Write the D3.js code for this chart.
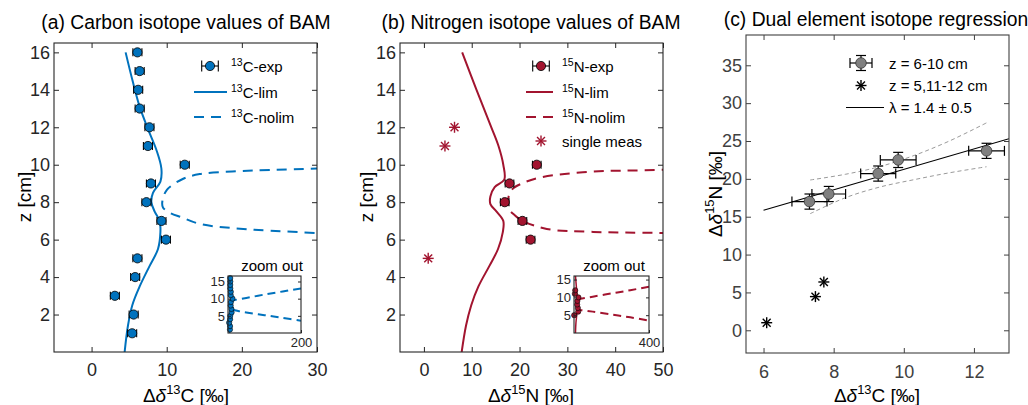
<!DOCTYPE html>
<html>
<head>
<meta charset="utf-8">
<script src="https://cdn.jsdelivr.net/npm/d3@7"></script>
<style>
  body { margin: 0; background: #fff; }
  svg { font-family: "Liberation Sans", Arial, sans-serif; }
</style>
</head>
<body>
<div id="container"></div>
<script>
/* CONSTANTS AND GLOBALS */
const width = 1028, height = 405;
const blue = "#0072BD", red = "#A2142F", axisColor = "#262626";

/* DATA */
// depth of the experimental samples (cm)
const zExp = [1, 2, 3, 4, 5, 6, 7, 8, 9, 10, 11, 12, 13, 14, 15, 16];
const c13Exp = [5.4, 5.6, 3.1, 5.8, 6.1, 9.9, 9.3, 7.3, 7.9, 12.4, 7.5, 7.7, 6.4, 6.2, 6.4, 6.1];
const c13Err = 0.6;

// 13C-lim model curve
const c13LimZ = [0, 1.4, 2.5, 3.5, 4.6, 5.5, 6.4, 7.0, 7.5, 8.0, 8.5, 9.1, 9.8, 10.8, 11.9, 13.1, 14.4, 16];
const c13LimV = [4.4, 4.84, 5.42, 6.4, 7.73, 8.84, 9.16, 9.07, 8.4, 7.96, 8.17, 9.16, 9.29, 8.62, 7.51, 6.4, 5.51, 4.53];

// 13C-nolim model curve (upper branch -> vertex -> lower branch)
const c13NolimV = [200, 150, 100, 50, 30, 18.7, 14.4, 12.2, 10.0, 9.42, 9.5, 10.5, 12.0, 14.4, 18.7, 30, 50, 100, 150, 200];
const c13NolimZ = [13.0, 12.1, 11.2, 10.2, 9.8, 9.64, 9.5, 9.25, 8.65, 8.05, 7.72, 7.42, 7.19, 6.84, 6.62, 6.35, 6.0, 5.2, 4.4, 3.6];

// 15N experimental samples
const zN = [6, 7, 8, 9, 10];
const n15Exp = [22.3, 20.6, 16.9, 17.9, 23.6];
const n15Err = 0.9;

// 15N single measurements
const zSingle = [5, 11, 12];
const n15Single = [0.9, 4.4, 6.4];

// 15N-lim model curve
const n15LimZ = [0, 1.4, 2.5, 3.5, 4.6, 5.5, 6.4, 7.0, 7.5, 7.9, 8.3, 8.8, 9.2, 10, 11, 12, 14, 16];
const n15LimV = [7.9, 8.8, 9.9, 11.4, 13.7, 15.5, 16.5, 16.6, 15.2, 13.9, 13.9, 14.8, 16.8, 16.6, 15.6, 14.1, 11.0, 8.0];

// 15N-nolim model curve
const n15NolimV = [400, 300, 200, 100, 50, 34.7, 24.3, 20.5, 18.5, 17.6, 17.8, 19.0, 20.6, 25.7, 34.7, 50, 100, 200, 300, 400];
const n15NolimZ = [13.0, 12.0, 11.1, 10.2, 9.73, 9.62, 9.32, 9.0, 8.7, 8.15, 7.63, 7.3, 7.01, 6.57, 6.42, 6.35, 6.0, 5.2, 4.4, 3.5];

// (c) dual element plot, z = 6-10 cm
const dualC = [7.31, 7.86, 9.27, 9.84, 12.36];
const dualN = [17.0, 18.0, 20.7, 22.5, 23.7];
const dualCErr = [0.5, 0.48, 0.5, 0.51, 0.51];
const dualNErr = [1.0, 1.0, 1.0, 1.0, 1.0];

// (c) z = 5, 11-12 cm
const starC = [6.09, 7.48, 7.72];
const starN = [1.0, 4.45, 6.38];

// (c) regression line and confidence band
const regC = [6, 13];
const regN = [15.85, 25.3];
const bandC = [7.33, 8.33, 9.3, 10.3, 11.3, 12.36];
const bandUpper = [19.85, 20.6, 21.6, 23.1, 25.0, 27.4];
const bandLower = [15.4, 17.5, 18.9, 19.9, 20.8, 21.6];

// ticks
const zTicks = [2, 4, 6, 8, 10, 12, 14, 16];
const cTicks = [0, 10, 20, 30];
const nTicks = [0, 10, 20, 30, 40, 50];
const dualCTicks = [6, 8, 10, 12];
const dualNTicks = [0, 5, 10, 15, 20, 25, 30, 35];
const insetZTicks = [5, 10, 15];

/* SVG */
const svg = d3.select("#container")
  .append("svg")
  .attr("width", width)
  .attr("height", height);

/* HELPERS */
function frame(g, box, xs, ys, xTicks, yTicks, o) {
  const col = o.color || axisColor;
  const ts = o.tick || 5;
  const fs = o.fontSize || 18;
  const axes = [
    g.append("g").attr("transform", `translate(0,${box.bottom})`)
      .call(d3.axisBottom(xs).tickValues(xTicks).tickSizeInner(-ts).tickSizeOuter(0).tickPadding(o.xPad || 11)),
    g.append("g").attr("transform", `translate(${box.left},0)`)
      .call(d3.axisLeft(ys).tickValues(yTicks).tickSizeInner(-ts).tickSizeOuter(0).tickPadding(o.yPad || 4)),
    g.append("g").attr("transform", `translate(0,${box.top})`)
      .call(d3.axisTop(xs).tickValues(o.topTicks || xTicks).tickSizeInner(-ts).tickSizeOuter(0).tickFormat(() => "")),
    g.append("g").attr("transform", `translate(${box.right},0)`)
      .call(d3.axisRight(ys).tickValues(yTicks).tickSizeInner(-ts).tickSizeOuter(0).tickFormat(() => ""))
  ];
  axes.forEach(a => {
    a.select(".domain").remove();
    a.selectAll("line").attr("stroke", col);
    a.selectAll("text").attr("fill", col).attr("font-size", fs)
      .attr("font-family", '"Liberation Sans", Arial, sans-serif');
  });
  g.append("rect")
    .attr("x", box.left).attr("y", box.top)
    .attr("width", box.right - box.left).attr("height", box.bottom - box.top)
    .attr("fill", "none").attr("stroke", col).attr("stroke-width", 1.1);
}

function clip(id, box) {
  svg.append("clipPath").attr("id", id)
    .append("rect")
    .attr("x", box.left).attr("y", box.top)
    .attr("width", box.right - box.left).attr("height", box.bottom - box.top);
  return `url(#${id})`;
}

function star(g, cx, cy, r, col, w) {
  const d = r * 0.72;
  const segs = [[-r, 0, r, 0], [0, -r, 0, r], [-d, -d, d, d], [-d, d, d, -d]];
  segs.forEach(s => g.append("line")
    .attr("x1", cx + s[0]).attr("y1", cy + s[1])
    .attr("x2", cx + s[2]).attr("y2", cy + s[3])
    .attr("stroke", col).attr("stroke-width", w || 1.3));
}

function hErr(g, x1, x2, y, cap) {
  g.append("line").attr("x1", x1).attr("x2", x2).attr("y1", y).attr("y2", y);
  g.append("line").attr("x1", x1).attr("x2", x1).attr("y1", y - cap).attr("y2", y + cap);
  g.append("line").attr("x1", x2).attr("x2", x2).attr("y1", y - cap).attr("y2", y + cap);
}

function vErr(g, x, y1, y2, cap) {
  g.append("line").attr("x1", x).attr("x2", x).attr("y1", y1).attr("y2", y2);
  g.append("line").attr("x1", x - cap).attr("x2", x + cap).attr("y1", y1).attr("y2", y1);
  g.append("line").attr("x1", x - cap).attr("x2", x + cap).attr("y1", y2).attr("y2", y2);
}

// "Δδ13C [‰]" style label
function isoText(t, iso, el, fs) {
  t.append("tspan").text("Δ");
  t.append("tspan").attr("font-style", "italic").text("δ");
  t.append("tspan").attr("font-size", fs * 0.68).attr("dy", -fs * 0.42).text(iso);
  t.append("tspan").attr("dy", fs * 0.42).text(el + " [‰]");
}

// "13C-exp" style legend label
function supText(t, iso, rest, fs) {
  t.append("tspan").attr("font-size", fs * 0.7).attr("dy", -fs * 0.4).text(iso);
  t.append("tspan").attr("dy", fs * 0.4).text(rest);
}

function title(x, y, s) {
  svg.append("text").attr("x", x).attr("y", y)
    .attr("text-anchor", "middle").attr("font-size", 19.3).attr("fill", "#000").text(s);
}

function yLabel(x, y, fn) {
  const t = svg.append("text")
    .attr("transform", `translate(${x},${y}) rotate(-90)`)
    .attr("dy", "0.35em")
    .attr("text-anchor", "middle").attr("font-size", 19).attr("fill", "#000");
  fn(t);
}

function xLabel(x, y, fn) {
  const t = svg.append("text").attr("x", x).attr("y", y)
    .attr("text-anchor", "middle").attr("font-size", 19).attr("fill", "#000");
  fn(t);
}

/* PROFILE PANELS (a) and (b) */
function profilePanel(p) {
  const box = p.box;
  const xScale = d3.scaleLinear().domain(p.xDomain).range([box.left, box.right]);
  const yScale = d3.scaleLinear().domain([0, 16.5]).range([box.bottom, box.top]);
  const g = svg.append("g");
  const cp = clip(p.id, box);

  const line = d3.line().x(d => xScale(d[0])).y(d => yScale(d[1])).curve(d3.curveCatmullRom.alpha(0.5));

  g.append("path")
    .attr("d", line(d3.zip(p.nolimV, p.nolimZ)))
    .attr("clip-path", cp)
    .attr("fill", "none").attr("stroke", p.color).attr("stroke-width", 2)
    .attr("stroke-dasharray", "10,7");

  g.append("path")
    .attr("d", line(d3.zip(p.limV, p.limZ)))
    .attr("clip-path", cp)
    .attr("fill", "none").attr("stroke", p.color).attr("stroke-width", 2);

  if (p.singleV) {
    p.singleV.forEach((v, i) => star(g, xScale(v), yScale(p.singleZ[i]), 5.5, p.color, 1.4));
  }

  const eb = g.append("g").attr("stroke", "#000").attr("stroke-width", 1.1);
  p.expV.forEach((v, i) => hErr(eb, xScale(v - p.err), xScale(v + p.err), yScale(p.expZ[i]), 4));

  g.selectAll("circle.pt")
    .data(d3.zip(p.expV, p.expZ))
    .join("circle")
    .attr("class", "pt")
    .attr("cx", d => xScale(d[0]))
    .attr("cy", d => yScale(d[1]))
    .attr("r", 4.6)
    .attr("fill", p.color).attr("stroke", "#000").attr("stroke-width", 0.8);

  frame(g, box, xScale, yScale, p.xTicks, zTicks, {});

  // legend
  const lg = svg.append("g");
  const lx = p.legend;
  const ebl = lg.append("g").attr("stroke", "#000").attr("stroke-width", 1.1);
  hErr(ebl, lx.mark - 8.3, lx.mark + 8.3, lx.rows[0], 5.5);
  lg.append("circle").attr("cx", lx.mark).attr("cy", lx.rows[0]).attr("r", 4.6)
    .attr("fill", p.color).attr("stroke", "#000").attr("stroke-width", 0.8);
  lg.append("line").attr("x1", lx.l1).attr("x2", lx.l2).attr("y1", lx.rows[1]).attr("y2", lx.rows[1])
    .attr("stroke", p.color).attr("stroke-width", 2);
  lg.append("line").attr("x1", lx.l1).attr("x2", lx.l2).attr("y1", lx.rows[2]).attr("y2", lx.rows[2])
    .attr("stroke", p.color).attr("stroke-width", 2).attr("stroke-dasharray", "10,7");
  p.labels.forEach((lab, i) => {
    const t = lg.append("text").attr("x", lx.text).attr("y", lx.rows[i] + 5.5)
      .attr("font-size", 15).attr("fill", "#000");
    if (lab[0]) supText(t, lab[0], lab[1], 15); else t.text(lab[1]);
  });
  if (p.singleV) {
    star(lg, lx.mark, lx.rows[3], 5.5, p.color, 1.4);
  }

  // inset "zoom out"
  const ib = p.inset;
  const ix = d3.scaleLinear().domain([0, p.insetMax]).range([ib.left, ib.right]);
  const iy = d3.scaleLinear().domain(p.insetZ).range([ib.bottom, ib.top]);
  const icp = clip(p.id + "-inset", ib);
  const ig = svg.append("g");
  ig.append("rect").attr("x", ib.left).attr("y", ib.top)
    .attr("width", ib.right - ib.left).attr("height", ib.bottom - ib.top).attr("fill", "#fff");
  const iline = d3.line().x(d => ix(d[0])).y(d => iy(d[1])).curve(d3.curveCatmullRom.alpha(0.5));
  ig.append("path")
    .attr("d", iline(d3.zip(p.nolimV, p.nolimZ)))
    .attr("clip-path", icp)
    .attr("fill", "none").attr("stroke", p.color).attr("stroke-width", 2)
    .attr("stroke-dasharray", "8,5");
  ig.append("path")
    .attr("d", iline(d3.zip(p.limV, p.limZ)))
    .attr("clip-path", icp)
    .attr("fill", "none").attr("stroke", p.color).attr("stroke-width", 1.5);
  const allV = p.expV.concat(p.singleV || []);
  const allZ = p.expZ.concat(p.singleZ || []);
  ig.selectAll("circle")
    .data(d3.zip(allV, allZ))
    .join("circle")
    .attr("cx", d => ix(d[0]))
    .attr("cy", d => iy(d[1]))
    .attr("r", 2.6)
    .attr("fill", p.color).attr("stroke", "#000").attr("stroke-width", 0.6);
  frame(ig, ib, ix, iy, [p.insetMax], insetZTicks, { tick: 3, fontSize: 13, xPad: 5, yPad: 3, topTicks: [] });
  ig.append("text").attr("x", p.zoomX).attr("y", ib.top - 5)
    .attr("text-anchor", "middle").attr("font-size", 15).attr("fill", "#000").text("zoom out");
}

profilePanel({
  id: "clipA",
  box: { left: 54, right: 317, top: 43, bottom: 352 },
  xDomain: [-5, 30],
  xTicks: cTicks,
  color: blue,
  expV: c13Exp, expZ: zExp, err: c13Err,
  limV: c13LimV, limZ: c13LimZ,
  nolimV: c13NolimV, nolimZ: c13NolimZ,
  legend: { mark: 210, l1: 194, l2: 227, text: 231, rows: [66, 92, 117] },
  labels: [["13", "C-exp"], ["13", "C-lim"], ["13", "C-nolim"]],
  inset: { left: 228, right: 301, top: 276, bottom: 333 },
  insetMax: 200, insetZ: [0, 16.6], zoomX: 272
});

profilePanel({
  id: "clipB",
  box: { left: 400, right: 663, top: 43, bottom: 352 },
  xDomain: [-5, 50],
  xTicks: nTicks,
  color: red,
  expV: n15Exp, expZ: zN, err: n15Err,
  singleV: n15Single, singleZ: zSingle,
  limV: n15LimV, limZ: n15LimZ,
  nolimV: n15NolimV, nolimZ: n15NolimZ,
  legend: { mark: 541, l1: 526, l2: 553, text: 562, rows: [66, 92, 117, 141] },
  labels: [["15", "N-exp"], ["15", "N-lim"], ["15", "N-nolim"], [null, "single meas"]],
  inset: { left: 574, right: 649, top: 276, bottom: 333 },
  insetMax: 400, insetZ: [0, 16], zoomX: 614
});

title(186, 29, "(a) Carbon isotope values of BAM");
title(531, 29, "(b) Nitrogen isotope values of BAM");
yLabel(24, 197, t => t.text("z [cm]"));
yLabel(366, 197, t => t.text("z [cm]"));
xLabel(186, 402, t => isoText(t, "13", "C", 19));
xLabel(531, 402, t => isoText(t, "15", "N", 19));

/* PANEL (c) */
const boxC = { left: 746, right: 1009, top: 35, bottom: 353 };
const xC = d3.scaleLinear().domain([5.5, 13]).range([boxC.left, boxC.right]);
const yC = d3.scaleLinear().domain([-3, 39]).range([boxC.bottom, boxC.top]);
const gC = svg.append("g");
const cpC = clip("clipC", boxC);

const lineC = d3.line().x(d => xC(d[0])).y(d => yC(d[1]));
const bandLine = d3.line().x(d => xC(d[0])).y(d => yC(d[1])).curve(d3.curveCatmullRom.alpha(0.5));

gC.append("path").attr("d", bandLine(d3.zip(bandC, bandUpper)))
  .attr("fill", "none").attr("stroke", "#9a9a9a").attr("stroke-width", 1).attr("stroke-dasharray", "4,3");
gC.append("path").attr("d", bandLine(d3.zip(bandC, bandLower)))
  .attr("fill", "none").attr("stroke", "#9a9a9a").attr("stroke-width", 1).attr("stroke-dasharray", "4,3");
gC.append("path").attr("d", lineC(d3.zip(regC, regN))).attr("clip-path", cpC)
  .attr("fill", "none").attr("stroke", "#000").attr("stroke-width", 1.2);

starC.forEach((v, i) => star(gC, xC(v), yC(starN[i]), 5.5, "#000", 1.4));

const ebC = gC.append("g").attr("stroke", "#000").attr("stroke-width", 1.2);
dualC.forEach((v, i) => {
  hErr(ebC, xC(v - dualCErr[i]), xC(v + dualCErr[i]), yC(dualN[i]), 5);
  vErr(ebC, xC(v), yC(dualN[i] - dualNErr[i]), yC(dualN[i] + dualNErr[i]), 5);
});
gC.selectAll("circle.pt")
  .data(d3.zip(dualC, dualN))
  .join("circle")
  .attr("class", "pt")
  .attr("cx", d => xC(d[0]))
  .attr("cy", d => yC(d[1]))
  .attr("r", 5.3)
  .attr("fill", "#7f7f7f").attr("stroke", "#333").attr("stroke-width", 0.8);

frame(gC, boxC, xC, yC, dualCTicks, dualNTicks, { color: "#404040", xPad: 12 });

// legend (c)
const lgC = svg.append("g");
const legRowsC = [63, 85.5, 107.5];
const ebl = lgC.append("g").attr("stroke", "#000").attr("stroke-width", 1.2);
hErr(ebl, 850, 872, legRowsC[0], 5);
vErr(ebl, 861, legRowsC[0] - 7.5, legRowsC[0] + 7.5, 5);
lgC.append("circle").attr("cx", 861).attr("cy", legRowsC[0]).attr("r", 5.3)
  .attr("fill", "#7f7f7f").attr("stroke", "#333").attr("stroke-width", 0.8);
star(lgC, 861, legRowsC[1], 5.5, "#000", 1.4);
lgC.append("line").attr("x1", 846).attr("x2", 884).attr("y1", legRowsC[2]).attr("y2", legRowsC[2])
  .attr("stroke", "#000").attr("stroke-width", 1.2);
["z = 6-10 cm", "z = 5,11-12 cm", "λ = 1.4 ± 0.5"].forEach((s, i) => {
  lgC.append("text").attr("x", 889).attr("y", legRowsC[i] + 5.5)
    .attr("font-size", 15).attr("fill", "#000").text(s);
});

title(876, 26, "(c) Dual element isotope regression");
yLabel(715, 194, t => isoText(t, "15", "N", 19));
xLabel(877, 402, t => isoText(t, "13", "C", 19));
</script>
</body>
</html>
